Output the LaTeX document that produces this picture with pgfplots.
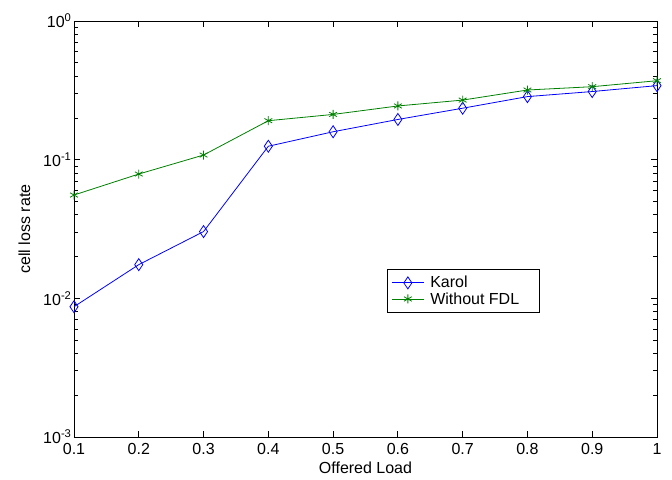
\documentclass[border=0pt]{standalone}
\usepackage{fontspec}
\setmainfont{Liberation Sans}
\usepackage{pgfplots}
\pgfplotsset{compat=1.18}
\usetikzlibrary{calc}

\definecolor{mblue}{RGB}{0,0,255}
\definecolor{mgreen}{RGB}{0,128,0}

\newcommand{\lblfont}{\fontsize{16pt}{18pt}\selectfont}

% longer legend sample line with the mark in its middle
\pgfplotsset{
  long line legend/.style={
    legend image code/.code={%
      \draw[mark repeat=2, mark phase=2, ##1]
        plot coordinates {(0pt,0pt) (16pt,0pt) (32pt,0pt)};}},
}

\begin{document}
\begin{tikzpicture}
\begin{axis}[
  name=ax,
  scale only axis,
  width=583pt, height=416pt,
  ymode=log,
  xmin=0.1, xmax=1,
  ymin=1e-3, ymax=1,
  xtick={0.1,0.2,0.3,0.4,0.5,0.6,0.7,0.8,0.9,1},
  xticklabels={0.1,0.2,0.3,0.4,0.5,0.6,0.7,0.8,0.9,1},
  ytick={1e-3,1e-2,1e-1,1},
  yticklabels={10\textsuperscript{-3},10\textsuperscript{-2},10\textsuperscript{-1},10\textsuperscript{0}},
  tick align=inside,
  major tick length=6pt,
  minor tick length=4pt,
  tick style={black, line width=0.8pt},
  axis line style={black, line width=0.9pt},
  xticklabel style={font=\lblfont, yshift=-3pt},
  yticklabel style={font=\lblfont, xshift=1pt},
  xlabel={Offered Load},
  ylabel={cell loss rate},
  xlabel style={font=\lblfont, yshift=0pt},
  ylabel style={font=\lblfont, yshift=6pt},
  legend style={
    at={(0.537,0.404)}, anchor=north west,
    draw=black, line width=0.8pt,
    font=\lblfont,
    inner xsep=4pt, inner ysep=5pt, row sep=-1pt,
    cells={anchor=west},
    nodes={inner xsep=6pt},
  },
  legend cell align=left,
  legend image post style={line width=0.8pt},
]
\addplot[color=mblue, line width=0.8pt, mark=diamond, mark size=6pt,
  mark options={solid, line width=0.8pt, xscale=0.9}, long line legend]
  coordinates {
    (0.1,0.0087) (0.2,0.0175) (0.3,0.0303) (0.4,0.125) (0.5,0.159)
    (0.6,0.195) (0.7,0.235) (0.8,0.285) (0.9,0.31) (1.0,0.342)
  };
\addlegendentry{Karol}
\addplot[color=mgreen, line width=0.8pt, mark=asterisk, mark size=4.5pt,
  mark options={solid, line width=0.8pt}, long line legend]
  coordinates {
    (0.1,0.0556) (0.2,0.0788) (0.3,0.108) (0.4,0.191) (0.5,0.212)
    (0.6,0.244) (0.7,0.269) (0.8,0.318) (0.9,0.336) (1.0,0.371)
  };
\addlegendentry{Without FDL\hspace*{10pt}}
\end{axis}
\useasboundingbox ($(ax.south west)+(-74pt,-42pt)$) rectangle ($(ax.north east)+(15pt,21pt)$);
\end{tikzpicture}
\end{document}
